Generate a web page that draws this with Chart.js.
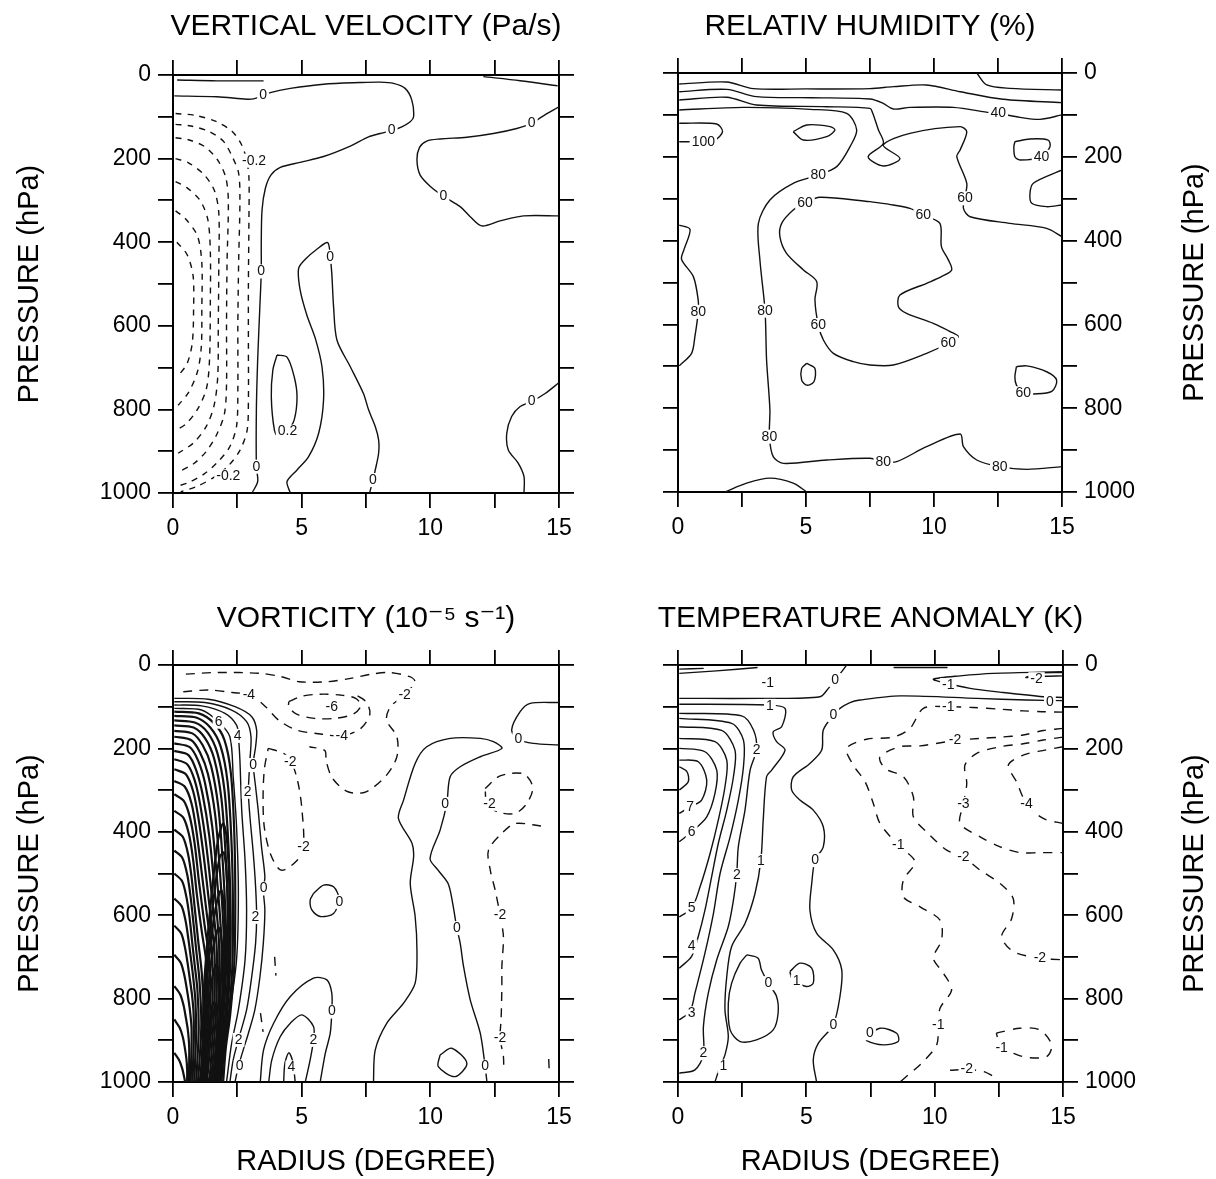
<!DOCTYPE html>
<html>
<head>
<meta charset="utf-8">
<title>Radius-pressure cross sections</title>
<script src="https://cdn.jsdelivr.net/npm/chart.js@4.4.0/dist/chart.umd.min.js"></script>
<style>
  body { margin: 0; background: #fff; }
  #page { position: relative; width: 1216px; height: 1179px; overflow: hidden; }
  .panel { position: absolute; width: 608px; height: 590px; }
</style>
</head>
<body>
<div id="page">
  <div class="panel" style="left:0;top:0"><canvas id="omega"></canvas></div>
  <div class="panel" style="left:608px;top:0"><canvas id="rh"></canvas></div>
  <div class="panel" style="left:0;top:589px"><canvas id="vort"></canvas></div>
  <div class="panel" style="left:608px;top:589px"><canvas id="temp"></canvas></div>
</div>
<script>
const FONT = '"Liberation Sans", Arial, "DejaVu Sans", sans-serif';
const INK = '#111';

// axis tick labels
const radiusLabels = [0, 5, 10, 15];
const pressureLabels = [0, 200, 400, 600, 800, 1000];

// ---- VERTICAL VELOCITY (Pa/s): [radius, pressure] ----
const omegaSolid = [
  [[0.16,12],[1.71,14],[3.52,14]],
  [[12.06,4],[13.49,13.6],[14.95,26]],
  [[0.05,50],[1.71,52],[2.87,58],[3.13,57],[3.5,50],[3.78,42],[4.56,32],[5.85,22],[7.27,18],[8.05,17],[8.57,20],[9.02,32],[9.28,60],[9.35,100],[9.22,112],[8.89,124],[8.5,133],[8.05,140],[7.6,148],[6.89,170],[5.85,195],[4.94,209],[4.17,221],[3.81,239],[3.59,271],[3.46,323],[3.43,403],[3.43,470],[3.37,562],[3.29,682],[3.24,801],[3.24,937],[3.29,973],[3.07,1000]],
  [[15,76],[14.33,100],[13.94,116],[13.36,128],[12.45,140],[11.42,149],[10.38,153],[9.86,158],[9.58,173],[9.48,203],[9.6,239],[9.99,266],[10.51,290],[11.16,315],[11.55,339],[12.0,361],[12.71,349],[13.62,337],[15,337]],
  [[4.56,1000],[4.43,973],[4.82,945],[5.27,913],[5.66,857],[5.85,778],[5.79,698],[5.53,630],[5.2,574],[4.94,514],[4.88,463],[5.14,441],[5.59,417],[6.01,401],[6.11,435],[6.17,474],[6.24,554],[6.37,634],[6.89,698],[7.4,762],[7.6,801],[7.86,841],[7.99,873],[7.99,905],[7.86,945],[7.77,969],[7.64,1000]],
  [[4.04,670],[4.43,675],[4.71,722],[4.82,770],[4.71,825],[4.43,853],[4.1,867],[3.94,849],[3.82,770],[3.88,706],[4.04,670]],
  [[15,736],[14.46,762],[13.94,781],[13.49,793],[13.16,817],[12.97,857],[13.03,897],[13.42,929],[13.64,961],[13.64,1000]]
];
const omegaDashed = [
  [[0.1,92],[0.9,97],[1.7,112],[2.3,135],[2.65,165],[2.85,200],[2.95,245],[2.95,350],[2.93,500],[2.93,650],[2.93,780],[2.88,850],[2.6,898],[2.15,935],[1.6,962],[0.9,985],[0.3,997]],
  [[0.1,118],[0.7,122],[1.4,135],[1.95,158],[2.3,195],[2.55,235],[2.6,300],[2.55,450],[2.52,600],[2.52,750],[2.47,840],[2.2,890],[1.75,925],[1.2,955],[0.6,975],[0.1,985]],
  [[0.1,150],[0.6,155],[1.25,172],[1.75,205],[2.05,245],[2.15,300],[2.1,450],[2.08,600],[2.08,740],[2.0,810],[1.7,860],[1.3,900],[0.8,930],[0.2,950]],
  [[0.1,200],[0.6,210],[1.2,238],[1.6,275],[1.78,330],[1.78,450],[1.76,600],[1.74,720],[1.6,790],[1.3,840],[0.8,880],[0.2,905]],
  [[0.1,255],[0.55,270],[1.05,300],[1.35,345],[1.45,420],[1.45,550],[1.42,680],[1.3,750],[0.95,800],[0.5,835],[0.1,850]],
  [[0.1,325],[0.5,345],[0.95,385],[1.12,450],[1.12,560],[1.1,650],[0.95,710],[0.6,760],[0.2,790]],
  [[0.15,400],[0.55,430],[0.78,480],[0.8,560],[0.75,640],[0.55,690],[0.2,720]]
];
const omegaLabels = [
  [3.5,48,'0'],[8.5,133,'0'],[13.94,116,'0'],[10.51,290,'0'],[3.43,470,'0'],[6.11,435,'0'],
  [3.24,937,'0'],[7.77,969,'0'],[4.45,853,'0.2'],[13.94,781,'0'],[3.15,205,'-0.2'],[2.15,960,'-0.2']
];

// ---- RELATIV HUMIDITY (%) ----
const rhSolid = [
  [[11.67,0],[12.06,28.6],[12.96,36.6],[15,40.6]],
  [[0.05,26.3],[1.9,21.5],[2.94,37.4],[5.0,38],[7.5,37.4],[8.41,32.6],[9.71,28.6],[11.02,44.6],[12.7,62.8],[15,70.8]],
  [[0.05,44.6],[1.9,39],[3.07,56.5],[5.2,59],[7.5,62],[8.0,72],[8.41,86],[9.06,82],[10.76,82],[12.19,94.7],[12.51,96.3],[13.36,105.8],[14.14,110.6],[15,100]],
  [[0.05,64.4],[1.9,58],[3.07,76.4],[5.81,80.4],[7.5,84.3],[7.6,95],[7.83,136],[8.02,168],[7.43,199.7],[8.02,222],[8.67,204],[8.02,172],[9.06,144],[11.02,128],[11.28,140],[11.02,183.8],[10.89,199.7],[11.28,263.3],[11.21,296.7],[11.15,323],[11.41,343],[12.96,358.8],[14.4,370.7],[15,390.6]],
  [[0.05,88.3],[2.55,82],[5.16,86.7],[6.59,96.3],[6.98,136],[6.72,175.8],[6.2,223.5],[5.48,243.4],[4.5,263.3],[3.59,303],[3.14,358.8],[3.2,446.3],[3.4,567.2],[3.46,685],[3.59,804],[3.57,868],[3.72,915.7],[4.11,931.6],[5.81,923.6],[7.5,919.6],[8.02,927.6],[8.54,927.6],[9.71,891.8],[11.02,861.6],[11.15,891.8],[11.67,923.6],[12.57,939.5],[13.62,946],[15,939.5]],
  [[0.05,120],[1.51,121.7],[1.74,140],[1.45,160],[1.0,164],[0.05,164]],
  [[4.5,140],[5.03,124],[5.94,128],[6.13,136],[5.81,152],[4.9,160],[4.5,140]],
  [[7.5,307],[5.55,296.7],[4.96,309.5],[4.5,327],[4.05,358.8],[3.98,390.6],[4.24,430.4],[4.9,470],[5.42,498],[5.35,541.8],[5.48,601.4],[5.68,637.2],[6.07,669],[6.85,689],[7.5,697],[8.41,697],[9.71,669],[10.56,645],[10.95,629],[10.63,617],[9.97,597.5],[8.93,573.6],[8.61,557.7],[8.67,530],[9.71,502],[10.29,486],[10.69,470],[10.56,446],[10.29,414.5],[10.23,358.8],[9.58,339],[9.06,323],[8.41,315],[7.5,307]],
  [[5.03,693],[5.35,705],[5.31,737],[5.03,745],[4.83,733],[4.83,705],[5.03,693]],
  [[0.05,363],[0.47,373],[0.23,422],[0.14,445],[0.6,486],[0.79,542],[0.79,570],[0.66,629],[0.53,669],[0.05,699]],
  [[1.84,1000],[2.68,979],[3.59,967],[4.5,979],[5.03,1000]],
  [[13.22,701],[13.62,699],[14.4,713],[14.79,733],[14.6,760],[13.88,766],[13.49,764.5],[13.22,745],[13.16,725],[13.22,701]],
  [[15,231.5],[13.88,263],[13.75,287],[13.82,311],[14.4,319],[15,315]],
  [[13.16,164],[13.75,157.5],[14.46,160],[14.53,176],[14.2,200],[13.36,207.6],[13.16,200],[13.12,176],[13.16,164]]
];
const rhLabels = [
  [0.99,164,'100'],[5.48,243.4,'80'],[4.96,309.5,'60'],[0.79,570,'80'],[3.4,567.2,'80'],[5.48,601.4,'60'],
  [3.57,868,'80'],[8.02,927.6,'80'],[12.57,939.5,'80'],[10.56,645,'60'],[9.58,339,'60'],[11.21,299,'60'],
  [12.51,96.3,'40'],[14.2,200,'40'],[13.49,764.5,'60']
];

// ---- VORTICITY (10^-5 s^-1) ----
const vortSolid = [
  [[0.05,80],[1.37,82],[2.41,100],[3.06,124],[3.25,156],[3.21,196],[3.12,237],[3.21,292],[3.31,348],[3.44,436],[3.57,508],[3.51,538],[3.57,588],[3.51,667],[3.38,747],[3.18,827],[2.93,883],[2.73,923],[2.54,963],[2.41,1000]],
  [[0.05,88],[1.24,90],[2.28,108],[2.86,136],[3.03,172],[2.99,228],[2.93,304],[2.99,364],[3.12,452],[3.21,532],[3.25,602],[3.21,667],[3.06,747],[2.86,827],[2.54,899],[2.34,947],[2.21,1000]],
  [[0.05,96],[1.11,98],[2.02,116],[2.47,144],[2.54,170],[2.6,228],[2.67,348],[2.8,468],[2.86,588],[2.8,707],[2.54,827],[2.28,907],[2.08,1000]],
  [[0.05,104],[1.11,108],[1.76,136],[2.21,172],[2.34,268],[2.47,388],[2.54,548],[2.47,707],[2.21,827],[1.95,907],[1.83,1000]],
  [[3.39,1000],[3.52,923],[3.91,859],[4.56,795],[5.46,751],[5.98,755],[6.17,787],[6.17,831],[6.11,883],[5.92,931],[5.72,1000]],
  [[3.72,1000],[3.84,947],[4.17,891],[4.56,859],[5.01,839],[5.46,867],[5.46,899],[5.33,947],[5.14,1000]],
  [[4.3,1000],[4.35,955],[4.5,930],[4.65,950],[4.75,1000]],
  [[5.46,548],[5.85,528],[6.24,532],[6.45,560],[6.24,596],[5.72,603],[5.4,588],[5.33,564],[5.46,548]],
  [[7.79,1000],[7.86,923],[8.31,859],[8.96,811],[9.41,763],[9.48,683],[9.41,603],[9.22,524],[9.35,460],[9.29,428],[8.76,368],[8.96,324],[9.41,236],[9.86,196],[10.77,176],[11.94,176],[12.45,184],[12.78,200],[11.94,220],[11.16,244],[10.77,268],[10.64,332],[10.38,396],[9.99,464],[10.3,492],[10.69,524],[10.87,572],[11.03,631],[11.16,667],[11.29,723],[11.55,803],[11.94,883],[12.13,963],[12.2,1000]],
  [[15,90],[13.88,92],[13.49,112],[13.16,156],[13.42,178],[14.0,188],[15,192]],
  [[10.38,935],[10.83,919],[11.42,955],[10.96,987],[10.31,963],[10.38,935]]
];
// packed positive contours of the vortex core
const vortCore = [
  [[0.05,112],[1.0,116],[1.6,140],[2.0,180],[2.25,260],[2.38,400],[2.42,560],[2.38,720],[2.22,840],[2.05,920],[1.95,1000]],
  [[0.05,122],[0.9,126],[1.45,150],[1.85,195],[2.12,280],[2.27,420],[2.33,580],[2.3,730],[2.15,850],[1.98,930],[1.88,1000]],
  [[0.05,133],[0.85,138],[1.35,162],[1.72,210],[2.0,300],[2.16,440],[2.24,600],[2.21,740],[2.07,860],[1.91,940],[1.81,1000]],
  [[0.05,145],[0.8,150],[1.25,176],[1.6,225],[1.88,320],[2.05,460],[2.15,620],[2.12,750],[1.99,870],[1.84,950],[1.74,1000]],
  [[0.05,158],[0.75,164],[1.15,192],[1.48,242],[1.76,340],[1.94,480],[2.06,640],[2.03,760],[1.91,880],[1.77,960],[1.67,1000]],
  [[0.05,172],[0.7,180],[1.05,210],[1.36,262],[1.64,360],[1.83,500],[1.97,650],[1.94,770],[1.83,890],[1.7,970],[1.6,1000]],
  [[0.05,188],[0.65,197],[0.98,230],[1.25,285],[1.52,385],[1.72,520],[1.88,660],[1.85,780],[1.75,900],[1.63,975],[1.53,1000]],
  [[0.05,206],[0.6,216],[0.9,252],[1.15,310],[1.41,410],[1.62,540],[1.79,670],[1.77,790],[1.67,905],[1.56,980],[1.46,1000]],
  [[0.05,226],[0.55,238],[0.84,276],[1.06,336],[1.3,436],[1.52,560],[1.7,680],[1.69,800],[1.59,910],[1.49,985],[1.39,1000]],
  [[0.05,250],[0.5,262],[0.78,302],[0.98,364],[1.2,462],[1.42,580],[1.61,690],[1.61,810],[1.51,915],[1.42,988],[1.32,1000]],
  [[0.05,278],[0.46,292],[0.72,332],[0.9,394],[1.1,490],[1.32,600],[1.52,700],[1.53,820],[1.43,920],[1.33,990],[1.25,1000]],
  [[0.05,310],[0.42,326],[0.66,366],[0.84,428],[1.01,520],[1.22,620],[1.42,712],[1.45,830],[1.36,925],[1.18,1000]],
  [[0.05,350],[0.4,366],[0.62,406],[0.78,466],[0.93,552],[1.12,640],[1.32,725],[1.37,840],[1.28,930],[1.11,1000]],
  [[0.05,395],[0.38,412],[0.58,452],[0.72,508],[0.85,586],[0.98,662],[1.12,740],[1.2,850],[1.14,935],[1.04,1000]],
  [[0.05,445],[0.36,462],[0.55,502],[0.68,554],[0.8,622],[0.91,688],[1.03,758],[1.1,860],[1.04,940],[0.97,1000]],
  [[0.05,500],[0.35,518],[0.52,556],[0.64,604],[0.74,662],[0.84,718],[0.95,780],[1.0,870],[0.95,945],[0.9,1000]],
  [[0.05,560],[0.33,578],[0.49,614],[0.6,658],[0.7,706],[0.79,752],[0.87,805],[0.9,880],[0.86,950],[0.83,1000]],
  [[0.05,625],[0.32,644],[0.46,676],[0.57,716],[0.66,756],[0.74,792],[0.8,835],[0.81,895],[0.78,955],[0.76,1000]],
  [[0.05,695],[0.3,714],[0.44,744],[0.54,778],[0.62,810],[0.68,840],[0.72,870],[0.72,915],[0.7,962],[0.69,1000]],
  [[0.05,770],[0.28,790],[0.41,816],[0.5,846],[0.57,872],[0.61,896],[0.63,920],[0.63,950],[0.62,1000]],
  [[0.05,850],[0.26,870],[0.38,892],[0.46,918],[0.52,944],[0.55,970],[0.55,1000]],
  [[0.05,930],[0.24,948],[0.36,968],[0.44,990],[0.47,1000]]
];
// closed maxima inside the core, cut by the 1000 hPa edge
const vortPeak = [
  [[1.08,1000],[1.15,900],[1.2,780],[1.35,650],[1.55,520],[1.75,420],[1.95,380],[2.1,420],[2.2,560],[2.2,700],[2.05,850],[1.9,950],[1.85,1000]],
  [[1.12,1000],[1.18,890],[1.26,770],[1.42,650],[1.62,540],[1.82,460],[1.98,450],[2.1,520],[2.12,650],[2.0,800],[1.86,930],[1.8,1000]],
  [[1.16,1000],[1.22,880],[1.32,760],[1.5,650],[1.7,570],[1.88,540],[2.0,600],[2.02,720],[1.92,850],[1.78,960],[1.74,1000]],
  [[1.2,1000],[1.27,870],[1.4,760],[1.58,670],[1.78,630],[1.92,680],[1.92,790],[1.8,900],[1.7,980],[1.67,1000]],
  [[1.25,1000],[1.33,870],[1.48,770],[1.66,720],[1.8,740],[1.82,840],[1.72,940],[1.62,1000]],
  [[1.3,1000],[1.4,880],[1.56,810],[1.7,820],[1.72,900],[1.6,980],[1.57,1000]]
];
const vortDashed = [
  [[0.5,22],[1.7,18],[3.4,20],[4.2,28],[4.9,40],[6.0,40],[6.9,32],[7.7,22],[8.4,18],[9.2,28],[9.4,40],[9.0,72],[8.45,100],[8.3,132],[8.7,172],[8.7,220],[8.3,264],[7.5,304],[6.8,304],[6.2,272],[5.95,230],[5.9,205],[5.3,196]],
  [[3.7,200],[4.3,212],[4.6,232],[4.85,280],[5.0,340],[5.07,436],[4.8,470],[4.2,492],[3.8,455],[3.55,390],[3.5,320],[3.55,250],[3.7,200]],
  [[0.4,64],[1.4,60],[2.3,66],[3.0,72],[3.6,100],[4.1,132],[4.8,156],[5.8,166],[6.6,170],[7.3,152],[7.65,118],[7.5,88],[7.0,68]],
  [[4.5,88],[5.0,75],[5.7,70],[6.5,72],[7.1,80],[7.3,98],[7.0,118],[6.3,128],[5.5,128],[4.8,118],[4.5,100],[4.5,88]],
  [[12.13,296],[12.71,266],[13.62,261],[13.98,293],[13.75,332],[13.29,356],[12.6,352],[12.2,333],[12.13,296]],
  [[14.3,386],[13.3,380],[12.84,400],[12.26,444],[12.33,492],[12.52,540],[12.71,600],[12.84,651],[12.78,723],[12.78,771],[12.75,850],[12.71,895],[12.84,939],[12.85,975]],
  [[3.95,700],[4.0,745]],
  [[3.4,835],[3.5,880]],
  [[14.6,945],[14.62,972]]
];
const vortLabels = [
  [3.11,240,'0'],[3.52,536,'0'],[2.59,963,'0'],[2.9,304,'2'],[3.2,604,'2'],[2.55,899,'2'],[2.51,170,'4'],[1.77,136,'6'],
  [2.95,72,'-4'],[6.17,100,'-6'],[6.56,170,'-4'],[4.56,232,'-2'],[5.07,436,'-2'],[9.0,72,'-2'],[12.3,333,'-2'],
  [12.71,600,'-2'],[12.71,895,'-2'],[6.17,831,'0'],[6.47,568,'0'],[10.58,333,'0'],[11.03,631,'0'],[12.13,963,'0'],
  [13.42,178,'0'],[5.46,899,'2'],[4.6,965,'4']
];

// ---- TEMPERATURE ANOMALY (K) ----
const tempSolid = [
  [[0.05,20],[1.5,14],[3.1,6]],
  [[0.05,10],[1.0,8]],
  [[8.4,6],[10.5,6]],
  [[0.05,80],[3.19,80],[5.53,76],[5.86,56],[6.12,36],[6.38,16],[6.57,0]],
  [[15,85.5],[13.58,84],[11.64,80],[8.65,74],[7.09,84],[6.7,90],[6.31,104],[6.05,120],[5.66,156],[5.6,204],[5.14,236],[4.49,268],[4.43,300],[4.75,324],[5.27,348],[5.66,388],[5.66,436],[5.34,468],[5.21,524],[5.14,588],[5.4,643],[6.05,683],[6.38,731],[6.31,795],[6.05,863],[5.47,907],[5.27,947],[5.4,1000]],
  [[0.05,94],[3.52,96],[4.17,104],[4.04,148],[3.71,160],[3.84,184],[4.17,204],[3.65,252],[3.45,268],[3.32,372],[3.23,468],[3.0,548],[2.61,620],[2.09,675],[1.9,747],[1.83,827],[1.96,891],[1.83,935],[1.64,963],[1.44,1000]],
  [[0.05,116],[2.48,122],[2.94,156],[3.06,202],[2.81,252],[2.61,348],[2.35,436],[2.29,500],[2.16,564],[1.96,627],[1.51,707],[1.18,787],[0.99,867],[0.99,935],[0.66,971],[0.05,979]],
  [[0.05,128],[2.09,140],[2.55,180],[2.55,244],[2.35,324],[2.03,412],[1.64,500],[1.38,596],[1.05,691],[0.66,787],[0.47,831],[0.05,851]],
  [[0.05,148],[1.7,157],[2.22,204],[2.16,268],[1.9,348],[1.57,428],[1.31,508],[1.05,588],[0.79,651],[0.53,699],[0.05,727]],
  [[0.05,176],[1.44,184],[1.9,228],[1.83,292],[1.57,372],[1.25,452],[0.86,532],[0.53,584],[0.05,604]],
  [[0.05,200],[1.05,208],[1.51,252],[1.44,308],[1.12,364],[0.53,400],[0.05,424]],
  [[0.05,228],[0.79,232],[1.12,276],[0.92,324],[0.47,340],[0.05,356]],
  [[0.05,244],[0.35,256],[0.4,280],[0.05,300]],
  [[15,16],[12.29,20],[10.99,26],[9.95,34],[10.34,42],[11.38,56],[12.68,66],[14.23,76],[15,78]],
  [[15,18],[14.2,19],[13.55,30],[14.2,27],[15,26]],
  [[4.36,735],[4.75,715],[5.21,727],[5.27,763],[5.01,771],[4.69,763],[4.43,751],[4.36,735]],
  [[2.68,695],[3.12,703],[3.25,731],[3.52,763],[3.84,795],[3.9,835],[3.71,875],[3.06,899],[2.42,903],[2.03,875],[1.96,811],[2.09,763],[2.42,715],[2.68,695]],
  [[7.35,891],[7.87,871],[8.52,883],[8.58,903],[8.0,911],[7.35,901],[7.35,891]]
];
const tempDashed = [
  [[15,113],[14.18,112],[13.45,110],[12.55,106],[11.51,102],[10.53,100],[9.56,104],[9.04,152],[8.39,173],[7.35,178],[6.57,200],[6.83,240],[7.29,280],[7.61,332],[7.87,380],[8.58,432],[9.23,472],[8.78,516],[8.78,556],[9.43,580],[10.21,612],[10.27,659],[9.95,703],[10.34,739],[10.66,779],[10.21,823],[10.14,863],[10.08,911],[9.49,955],[8.97,983],[8.65,1000]],
  [[15,152],[14.23,157],[13.45,168],[12.55,173],[11.77,176],[10.79,181],[9.43,194],[8.65,196],[7.87,220],[8.06,248],[8.78,268],[9.17,316],[9.17,364],[9.75,404],[10.47,444],[11.12,461],[11.77,492],[12.55,524],[13.06,560],[13.0,608],[12.61,651],[13.06,687],[14.1,703],[15,707]],
  [[15,173],[14.23,180],[13.45,189],[12.55,196],[11.64,212],[11.18,240],[11.25,284],[11.12,333],[10.99,380],[11.77,412],[12.55,436],[13.32,450],[14.1,450],[15,450]],
  [[15,196],[14.3,204],[13.45,216],[12.87,240],[13.19,280],[13.58,333],[14.23,368],[15,380]],
  [[12.4,883],[13.32,871],[14.1,875],[14.56,911],[14.36,939],[13.58,941],[13.06,931],[12.61,919],[12.4,883]],
  [[10.6,972],[11.25,970],[11.9,975],[12.4,990]]
];
const tempLabels = [
  [3.5,44,'-1'],[6.12,36,'0'],[6.05,120,'0'],[3.58,98,'1'],[3.06,204,'2'],[0.47,340,'7'],[0.53,400,'6'],
  [2.29,504,'2'],[3.23,470,'1'],[5.34,468,'0'],[0.53,584,'5'],[0.53,675,'4'],[3.52,763,'0'],[4.62,759,'1'],
  [0.53,835,'3'],[6.05,863,'0'],[0.99,931,'2'],[1.77,963,'1'],[10.53,100,'-1'],[10.79,181,'-2'],[14.49,90,'0'],
  [13.97,34,'-2'],[10.53,48,'-1'],[11.12,333,'-3'],[13.58,333,'-4'],[8.58,432,'-1'],[11.12,461,'-2'],
  [14.1,703,'-2'],[10.14,863,'-1'],[7.48,883,'0'],[12.61,919,'-1'],[11.25,970,'-2']
];

// contour values written on the lines, the panel title, and a right-hand axis title read bottom-to-top
const contourLabels = {
  id: 'contourLabels',
  afterDatasetsDraw(chart, args, opts) {
    const { ctx, scales: { x, y }, chartArea } = chart;
    ctx.save();
    ctx.font = '14px ' + FONT;
    ctx.textAlign = 'center';
    ctx.textBaseline = 'middle';
    (opts.items || []).forEach(([r, p, t]) => {
      const px = x.getPixelForValue(r);
      const py = y.getPixelForValue(p);
      const w = ctx.measureText(t).width + 4;
      ctx.fillStyle = '#fff';
      ctx.fillRect(px - w / 2, py - 7, w, 14);
      ctx.fillStyle = INK;
      ctx.fillText(t, px, py);
    });
    ctx.fillStyle = '#000';
    if (opts.title) {
      ctx.font = '30px ' + FONT;
      ctx.fillText(opts.title, (chartArea.left + chartArea.right) / 2, opts.titleY);
    }
    if (opts.sideTitle) {
      ctx.font = '29px ' + FONT;
      ctx.translate(chart.width - 21, (chartArea.top + chartArea.bottom) / 2);
      ctx.rotate(-Math.PI / 2);
      ctx.fillText(opts.sideTitle, 0, 0);
    }
    ctx.restore();
  }
};

function lines(list, dash, width) {
  return list.map(pts => ({
    data: pts.map(([r, p]) => ({ x: r, y: p })),
    showLine: true,
    borderColor: INK,
    borderWidth: width,
    borderDash: dash,
    pointRadius: 0,
    pointHoverRadius: 0,
    tension: 0.3,
    fill: false
  }));
}

function buildScales(cfg) {
  const grid = { drawOnChartArea: false, drawTicks: true, tickLength: 15, color: '#000', lineWidth: 1.8 };
  const border = { display: true, color: '#000', width: 2 };
  const tickFont = { family: FONT, size: 23 };
  const titleFont = { family: FONT, size: 29 };
  const radius = (pos, labels, h, title) => ({
    type: 'linear', position: pos, min: 0, max: 15, grid, border,
    ticks: {
      display: labels, stepSize: 2.5, autoSkip: false, maxRotation: 0, padding: 7, color: '#000', font: tickFont,
      callback: v => radiusLabels.includes(v) ? String(v) : ''
    },
    title: title ? { display: true, text: title, color: '#000', font: titleFont, padding: { top: 0, bottom: 0 } } : { display: false },
    afterFit: s => { s.height = h; }
  });
  const pressure = (pos, labels, w, title) => ({
    type: 'linear', position: pos, min: 0, max: 1000, reverse: true, grid, border,
    ticks: {
      display: labels, stepSize: 100, autoSkip: false, padding: 7, color: '#000', font: tickFont,
      callback: v => pressureLabels.includes(v) ? String(v) : ''
    },
    title: title ? { display: true, text: title, color: '#000', font: titleFont, padding: { top: 13, bottom: 0 } } : { display: false },
    afterFit: s => { s.width = w; }
  });
  const b = cfg.box;
  return {
    x: radius('bottom', true, b.bottom, cfg.xTitle ? 'RADIUS (DEGREE)' : ''),
    x2: radius('top', false, b.top, ''),
    y: pressure('left', cfg.left, b.left, cfg.left ? 'PRESSURE (hPa)' : ''),
    y2: pressure('right', !cfg.left, b.right, '')
  };
}

function drawPanel(id, cfg) {
  new Chart(document.getElementById(id), {
    type: 'scatter',
    data: { datasets: cfg.datasets },
    options: {
      responsive: true,
      maintainAspectRatio: false,
      animation: false,
      events: [],
      layout: { padding: 0 },
      plugins: {
        legend: { display: false },
        tooltip: { enabled: false },
        contourLabels: {
          items: cfg.labels,
          title: cfg.title,
          titleY: cfg.titleY,
          sideTitle: cfg.left ? '' : 'PRESSURE (hPa)'
        }
      },
      scales: buildScales(cfg)
    },
    plugins: [contourLabels]
  });
}

drawPanel('omega', {
  title: 'VERTICAL VELOCITY (Pa/s)', titleY: 27, left: true, xTitle: false,
  box: { left: 173, right: 49, top: 75, bottom: 97 },
  datasets: [...lines(omegaSolid, [], 1.4), ...lines(omegaDashed, [6, 6], 1.4)],
  labels: omegaLabels
});
drawPanel('rh', {
  title: 'RELATIV HUMIDITY (%)', titleY: 27, left: false, xTitle: false,
  box: { left: 70, right: 154, top: 73, bottom: 98 },
  datasets: lines(rhSolid, [], 1.4),
  labels: rhLabels
});
drawPanel('vort', {
  title: 'VORTICITY (10\u207B\u2075 s\u207B\u00B9)', titleY: 30, left: true, xTitle: true,
  box: { left: 173, right: 49, top: 76, bottom: 97 },
  datasets: [
    ...lines(vortCore, [], 2.2), ...lines(vortPeak, [], 2.2),
    ...lines(vortSolid, [], 1.4), ...lines(vortDashed, [9, 7], 1.4)
  ],
  labels: vortLabels
});
drawPanel('temp', {
  title: 'TEMPERATURE ANOMALY (K)', titleY: 30, left: false, xTitle: true,
  box: { left: 70, right: 153, top: 76, bottom: 97 },
  datasets: [...lines(tempSolid, [], 1.4), ...lines(tempDashed, [9, 8], 1.4)],
  labels: tempLabels
});
</script>
</body>
</html>
